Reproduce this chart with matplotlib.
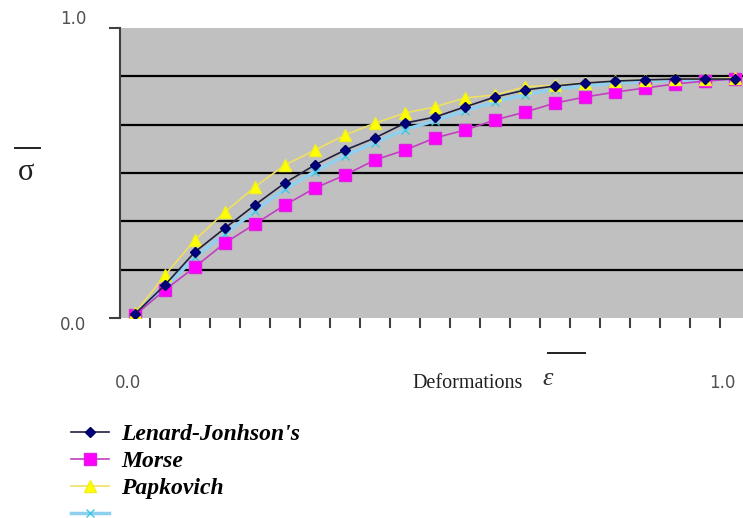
"""Stress-strain curves for four interatomic potentials (Excel-style line chart)."""

import matplotlib.pyplot as plt
from matplotlib.lines import Line2D

# category positions along the deformation axis (21 evenly spaced points)
points = list(range(21))

lenard_jones = [0.014, 0.114, 0.228, 0.310, 0.390, 0.466, 0.528, 0.579, 0.621,
                0.672, 0.693, 0.728, 0.762, 0.786, 0.800, 0.810, 0.817, 0.821,
                0.824, 0.824, 0.824]
morse = [0.010, 0.097, 0.176, 0.259, 0.324, 0.390, 0.448, 0.493, 0.545,
         0.579, 0.621, 0.648, 0.683, 0.710, 0.741, 0.762, 0.779, 0.793,
         0.807, 0.817, 0.824]
papkovich = [0.017, 0.148, 0.269, 0.366, 0.452, 0.528, 0.579, 0.631, 0.672,
             0.707, 0.728, 0.759, 0.769, 0.797, 0.803, 0.810, 0.817, 0.821,
             0.824, 0.824, 0.828]
fourth = [0.014, 0.105, 0.210, 0.290, 0.370, 0.445, 0.505, 0.560, 0.605,
          0.650, 0.680, 0.715, 0.745, 0.770, 0.790, 0.800, 0.810, 0.815,
          0.820, 0.822, 0.824]

series_labels = ["Lenard-Jonhson's", "Morse", "Papkovich", " "]
grid_levels = [1 / 6, 2 / 6, 3 / 6, 4 / 6, 5 / 6]


def main():
    fig = plt.figure(figsize=(7.43, 5.18), dpi=100)
    # plot area runs past the right edge of the picture
    ax = fig.add_axes([120 / 743, 1 - 318 / 518, 630 / 743, 290 / 518])
    ax.set_facecolor("#c0c0c0")

    for level in grid_levels:
        ax.axhline(level, color="black", linewidth=1.6, zorder=1)

    l1, = ax.plot(points, fourth, color="#8fd0f0", linewidth=2.5,
                  marker="x", markersize=6, markeredgecolor="#40c8e0", zorder=2)
    l2, = ax.plot(points, morse, color="#c040c0", linewidth=1.2,
                  marker="s", markersize=8, markerfacecolor="#ff00ff",
                  markeredgecolor="#e020e0", zorder=3)
    l3, = ax.plot(points, papkovich, color="#f0e060", linewidth=1.2,
                  marker="^", markersize=8, markerfacecolor="#ffff00",
                  markeredgecolor="#f0f020", zorder=3)
    l4, = ax.plot(points, lenard_jones, color="#202040", linewidth=1.2,
                  marker="D", markersize=5.5, markerfacecolor="#000080",
                  markeredgecolor="#000060", zorder=4)

    ax.set_xlim(-0.5, 20.5)
    ax.set_ylim(0, 1)
    ax.set_xticks([i + 0.5 for i in points[:-1]])
    ax.set_xticklabels([])
    ax.set_yticks([0, 1])
    ax.set_yticklabels([])
    ax.tick_params(axis="x", direction="out", length=7, width=1.5,
                   color="#404040")
    ax.tick_params(axis="y", direction="out", length=8, width=1.5,
                   color="#404040")
    for side in ["top", "right", "bottom"]:
        ax.spines[side].set_visible(False)
    ax.spines["left"].set_color("#404040")
    ax.spines["left"].set_linewidth(1.5)

    gray = "#505050"
    fig.text(86 / 743, 1 - 19 / 518, "1.0", ha="right", va="center",
             fontsize=12, color=gray)
    fig.text(86 / 743, 1 - 325 / 518, "0.0", ha="right", va="center",
             fontsize=12, color=gray)
    fig.text(128 / 743, 1 - 383 / 518, "0.0", ha="center", va="center",
             fontsize=12, color=gray)
    fig.text(722 / 743, 1 - 383 / 518, "1.0", ha="center", va="center",
             fontsize=12, color=gray)

    fig.text(468 / 743, 1 - 384 / 518, "Deformations", ha="center",
             va="center", fontsize=14.5, family="Liberation Serif",
             color="#202020")
    fig.text(548 / 743, 1 - 379 / 518, "\u03b5", ha="center", va="center",
             fontsize=19, family="Liberation Serif", style="italic",
             color="#303030")
    fig.add_artist(Line2D([548 / 743, 585 / 743], [1 - 353 / 518] * 2,
                          color="#202020", linewidth=1.4))

    fig.text(26 / 743, 1 - 172 / 518, "\u03c3", ha="center", va="center",
             fontsize=22, family="Liberation Serif", color="#202020")
    fig.add_artist(Line2D([15 / 743, 40 / 743], [1 - 148 / 518] * 2,
                          color="#202020", linewidth=1.4))

    fig.legend([l4, l2, l3, l1], series_labels, loc="upper left",
               bbox_to_anchor=(62 / 743, 1 - 414 / 518), frameon=False,
               handlelength=1.6, handletextpad=0.5, labelspacing=0.24,
               borderaxespad=0,
               prop={"family": "Liberation Serif", "style": "italic",
                     "weight": "bold", "size": 17})

    fig.savefig("out.png", dpi=100)

    return None


if __name__ == '__main__':
    main()
